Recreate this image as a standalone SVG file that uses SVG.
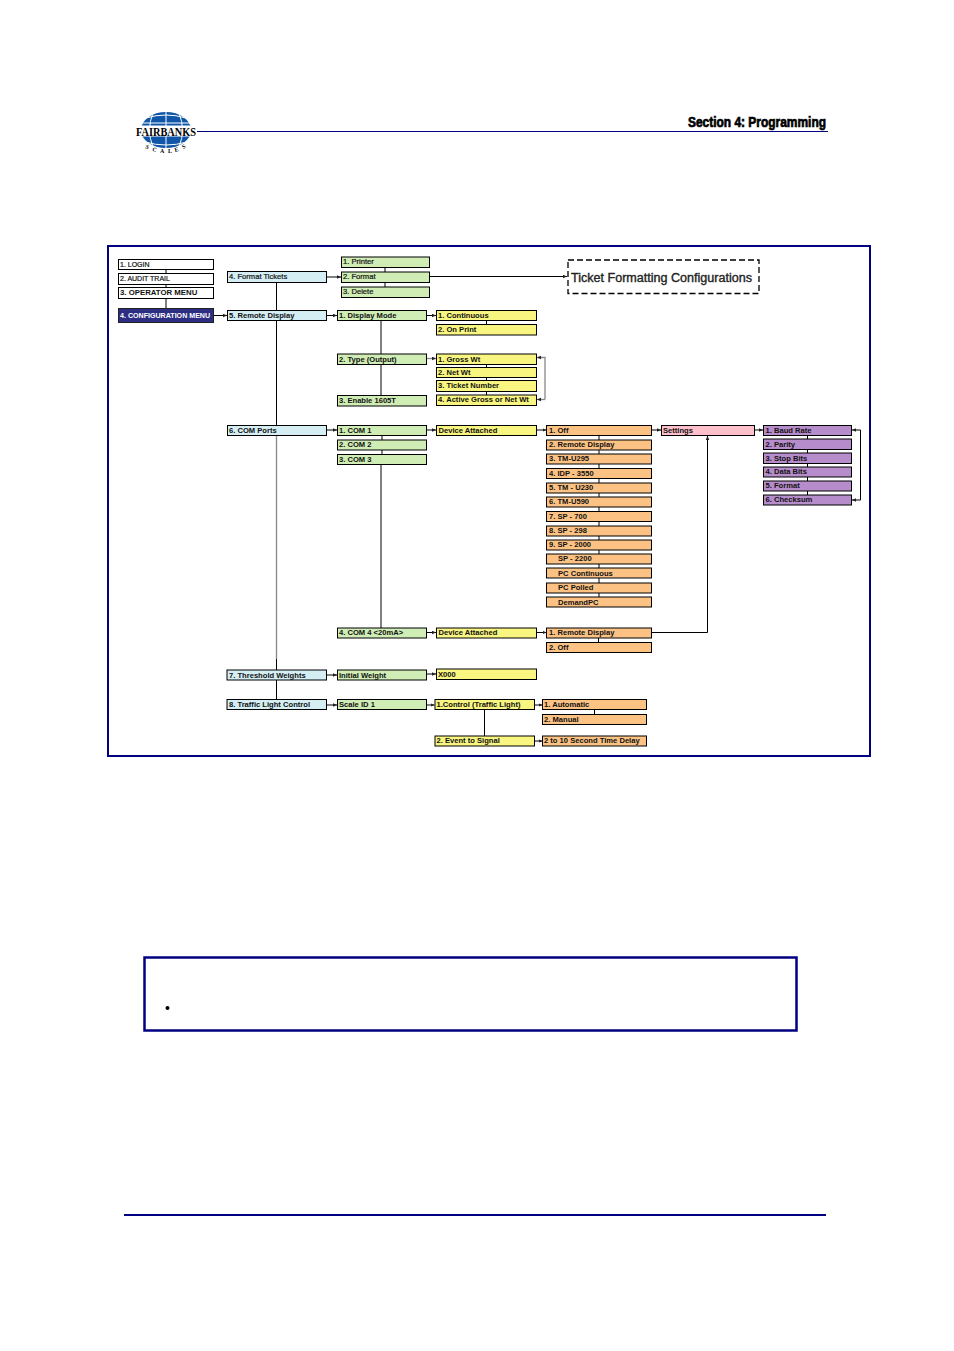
<svg xmlns="http://www.w3.org/2000/svg" width="954" height="1351" viewBox="0 0 954 1351">
<style>
text{font-family:"Liberation Sans",Arial,sans-serif;fill:#111}
.n rect{stroke:#000;stroke-width:1}
.n text{font-size:7.6px;font-weight:bold;transform:translateY(-.6px)}
.n text.r{font-weight:normal;stroke:#111;stroke-width:.2}
.w rect{fill:#fff}.b rect{fill:#d4eef4}.g rect{fill:#cfedb5}.y rect{fill:#f8f580}.o rect{fill:#fbc283}.p rect{fill:#b78ccb}.k rect{fill:#ffc0cb}
.c path{fill:none;stroke:#000;stroke-width:1}
.c path.a{marker-end:url(#ah)}
.c path.h{stroke:#888;stroke-width:1.300}
.c path.ha{stroke:#888;stroke-width:1.300;marker-end:url(#ah)}
.nav{fill:none;stroke:#000080}
.lg{font-family:"Liberation Serif",serif;fill:#000;font-size:6px;font-weight:bold}
</style>
<defs><marker id="ah" markerUnits="userSpaceOnUse" markerWidth="5" markerHeight="5" refX="4" refY="2" orient="auto"><path d="M0 0.2L4 2L0 3.8z" fill="#222"/></marker></defs>
<rect width="954" height="1351" fill="#fff"/>

<g id="logo">
<ellipse cx="166" cy="130" rx="25" ry="18" fill="#0f56a8"/>
<path d="M166 112V148M153 113Q146 130 153 147M179 113Q186 130 179 147M141 123H191M146 118Q166 112 186 118M145 142Q166 148 187 142" fill="none" stroke="#fff" stroke-width="1"/>
<rect x="136" y="125.500" width="60" height="11" fill="#fff"/>
<text x="136" y="135.500" font-size="12" font-weight="bold" textLength="60" lengthAdjust="spacingAndGlyphs" style="font-family:'Liberation Serif',serif;fill:#000">FAIRBANKS</text>
<text class="lg" x="145" y="148" transform="rotate(25 145 148)">S</text>
<text class="lg" x="152" y="151" transform="rotate(15 152 151)">C</text>
<text class="lg" x="160" y="153">A</text>
<text class="lg" x="168" y="153">L</text>
<text class="lg" x="175" y="152" transform="rotate(-15 175 152)">E</text>
<text class="lg" x="183" y="149" transform="rotate(-25 183 149)">S</text>
</g>
<path class="nav" d="M197 131.500H828"/>
<text id="section-title" x="688" y="127" font-size="14.500" font-weight="bold" textLength="138" lengthAdjust="spacingAndGlyphs" stroke="#000" stroke-width=".7" style="fill:#000">Section 4: Programming</text>

<rect id="frame" class="nav" x="108" y="246" width="762" height="510" stroke-width="2"/>

<g id="connectors" class="c">
<path d="M166 270V273M166 284V287M166 298V308"/>
<path class="a" d="M214 315.500H227"/>
<path class="a" d="M327 277H341"/>
<path d="M385 268V272M385 283V287"/>
<path class="a" d="M430 276.500H567"/>
<path class="a" d="M327 315.500H337"/>
<path class="a" d="M427 315.500H436"/>
<path d="M486.500 320V325"/>
<path d="M381 320V354M381 365V395"/>
<path class="ha" d="M427 358.500H436"/>
<path d="M486.500 365V395"/>
<path class="ha" d="M545 399.500V357.500H537"/>
<path class="ha" d="M545 399.500H537"/>
<path d="M276.500 283V310M276.500 320V425"/>
<path class="h" d="M276.500 436V659"/>
<path d="M276.500 659V670M276.500 680V700"/>
<path class="a" d="M327 430H337"/>
<path class="a" d="M427 430H436"/>
<path class="a" d="M537 430H546.500"/>
<path class="a" d="M652 430H661"/>
<path class="a" d="M755 430H763"/>
<path d="M382 436V440M382 450V454M381 465V628"/>
<path d="M599 436V597"/>
<path d="M807.500 436V495"/>
<path class="a" d="M860.500 500V430H852"/>
<path class="a" d="M860.500 500H852"/>
<path class="a" d="M652 632.500H707.500V436"/>
<path class="a" d="M427 632.500H436"/>
<path class="a" d="M537 632.500H546.500"/>
<path d="M598.500 638V643"/>
<path class="a" d="M327 675H337"/>
<path class="a" d="M427 674H436"/>
<path class="a" d="M327 705H337"/>
<path class="a" d="M427 705H434.500"/>
<path class="a" d="M534.500 705H542.500"/>
<path d="M594.500 710V715"/>
<path d="M484.500 710V736"/>
<path class="a" d="M534.500 741H542.500"/>
</g>

<g id="n-login" class="n w"><rect x="118.500" y="259.500" width="95" height="10"/><text class="r" x="120" y="267.500" style="font-size:7px">1. LOGIN</text></g>
<g id="n-audit" class="n w"><rect x="118.500" y="273.500" width="95" height="11"/><text class="r" x="120" y="281.500" style="font-size:7px">2. AUDIT TRAIL</text></g>
<g id="n-operator" class="n w"><rect x="118.500" y="287.500" width="95" height="11"/><text x="120" y="296" style="font-size:7.800px">3. OPERATOR MENU</text></g>
<g id="n-config"><rect x="118.500" y="308.500" width="95" height="14" fill="#2d2e83" stroke="#222"/><text x="120" y="318" font-size="7.100" font-weight="bold" style="fill:#fff">4. CONFIGURATION MENU</text></g>

<g id="n-format-tickets" class="n b"><rect x="227.500" y="271.500" width="99" height="11"/><text class="r" x="229" y="280">4. Format Tickets</text></g>
<g id="n-remote" class="n b"><rect x="227.500" y="310.500" width="99" height="10"/><text x="229" y="318.500">5. Remote Display</text></g>
<g id="n-com-ports" class="n b"><rect x="227.500" y="425.500" width="99" height="10"/><text x="229" y="433.500">6. COM Ports</text></g>
<g id="n-threshold" class="n b"><rect x="227" y="670" width="99.500" height="10"/><text x="229" y="678.500">7. Threshold Weights</text></g>
<g id="n-traffic" class="n b"><rect x="227" y="699.500" width="99.500" height="10"/><text x="229" y="708">8. Traffic Light Control</text></g>

<g id="n-printer" class="n g"><rect x="341.500" y="257" width="88" height="10.500"/><text class="r" x="343" y="265">1. Printer</text></g>
<g id="n-format" class="n g"><rect x="341.500" y="272" width="88" height="10.500"/><text class="r" x="343" y="280">2. Format</text></g>
<g id="n-delete" class="n g"><rect x="341.500" y="287" width="88" height="10.500"/><text class="r" x="343" y="295">3. Delete</text></g>
<g id="n-display-mode" class="n g"><rect x="337.500" y="310.500" width="89" height="10"/><text x="339" y="318.500">1. Display Mode</text></g>
<g id="n-type" class="n g"><rect x="337.500" y="354" width="89" height="10.500"/><text x="339" y="362.500">2. Type (Output)</text></g>
<g id="n-enable" class="n g"><rect x="337.500" y="395.500" width="89" height="10.500"/><text x="339" y="404">3. Enable 1605T</text></g>
<g id="n-com1" class="n g"><rect x="337.500" y="425.500" width="89" height="10"/><text x="339" y="433.500">1. COM 1</text></g>
<g id="n-com2" class="n g"><rect x="337.500" y="440" width="89" height="10"/><text x="339" y="448">2. COM 2</text></g>
<g id="n-com3" class="n g"><rect x="337.500" y="454.500" width="89" height="10"/><text x="339" y="462.500">3. COM 3</text></g>
<g id="n-com4" class="n g"><rect x="337.500" y="628" width="89" height="10"/><text x="339" y="636">4. COM 4 &lt;20mA&gt;</text></g>
<g id="n-initial" class="n g"><rect x="337.500" y="670" width="89" height="10"/><text x="339" y="678.500">Initial Weight</text></g>
<g id="n-scale" class="n g"><rect x="337.500" y="699.500" width="89" height="10"/><text x="339" y="708">Scale ID 1</text></g>

<g id="n-continuous" class="n y"><rect x="436.500" y="310.500" width="100" height="10"/><text x="438" y="318.500">1. Continuous</text></g>
<g id="n-on-print" class="n y"><rect x="436.500" y="324.500" width="100" height="10.500"/><text x="438" y="333">2. On Print</text></g>
<g id="n-gross" class="n y"><rect x="436.500" y="354" width="100" height="10.500"/><text x="438" y="362.500">1. Gross Wt</text></g>
<g id="n-net" class="n y"><rect x="436.500" y="367.500" width="100" height="10"/><text x="438" y="375.500">2. Net Wt</text></g>
<g id="n-ticket" class="n y"><rect x="436.500" y="380.500" width="100" height="11"/><text x="438" y="389">3. Ticket Number</text></g>
<g id="n-active" class="n y"><rect x="436.500" y="395" width="100" height="10.500"/><text x="438" y="403">4. Active Gross or Net Wt</text></g>
<g id="n-device1" class="n y"><rect x="436.500" y="425.500" width="100" height="10"/><text x="438.500" y="433.500">Device Attached</text></g>
<g id="n-device2" class="n y"><rect x="436.500" y="628" width="100" height="10"/><text x="438.500" y="636">Device Attached</text></g>
<g id="n-x000" class="n y"><rect x="436.500" y="669" width="100" height="10.500"/><text x="438" y="677.500">X000</text></g>
<g id="n-control" class="n y"><rect x="435" y="699.500" width="99.500" height="10"/><text x="436.500" y="708">1.Control (Traffic Light)</text></g>
<g id="n-event" class="n y"><rect x="435" y="736" width="99.500" height="10"/><text x="436.500" y="744">2. Event to Signal</text></g>

<g id="n-off" class="n o"><rect x="546.500" y="425.500" width="105" height="10"/><text x="549" y="433.500">1. Off</text></g>
<g id="n-rd" class="n o"><rect x="546.500" y="440" width="105" height="10"/><text x="549" y="448">2. Remote Display</text></g>
<g id="n-u295" class="n o"><rect x="546.500" y="454" width="105" height="10"/><text x="549" y="462">3. TM-U295</text></g>
<g id="n-idp" class="n o"><rect x="546.500" y="468.500" width="105" height="10"/><text x="549" y="476.500">4. IDP - 3550</text></g>
<g id="n-u230" class="n o"><rect x="546.500" y="483" width="105" height="10"/><text x="549" y="491">5. TM - U230</text></g>
<g id="n-u590" class="n o"><rect x="546.500" y="497" width="105" height="10"/><text x="549" y="505">6. TM-U590</text></g>
<g id="n-sp700" class="n o"><rect x="546.500" y="511.500" width="105" height="10"/><text x="549" y="519.500">7. SP - 700</text></g>
<g id="n-sp298" class="n o"><rect x="546.500" y="526" width="105" height="10"/><text x="549" y="534">8. SP - 298</text></g>
<g id="n-sp2000" class="n o"><rect x="546.500" y="540" width="105" height="10"/><text x="549" y="548">9. SP - 2000</text></g>
<g id="n-sp2200" class="n o"><rect x="546.500" y="554" width="105" height="10"/><text x="558" y="562">SP - 2200</text></g>
<g id="n-pcc" class="n o"><rect x="546.500" y="568" width="105" height="10"/><text x="558" y="576.500">PC Continuous</text></g>
<g id="n-pcp" class="n o"><rect x="546.500" y="583" width="105" height="10"/><text x="558" y="591">PC Polled</text></g>
<g id="n-dpc" class="n o"><rect x="546.500" y="597" width="105" height="10"/><text x="558" y="605.500">DemandPC</text></g>
<g id="n-rd2" class="n o"><rect x="546.500" y="628" width="105" height="10"/><text x="549" y="636">1. Remote Display</text></g>
<g id="n-off2" class="n o"><rect x="546.500" y="642.500" width="105" height="10"/><text x="549" y="650.500">2. Off</text></g>
<g id="n-auto" class="n o"><rect x="542.500" y="699.500" width="104" height="10"/><text x="544" y="708">1. Automatic</text></g>
<g id="n-manual" class="n o"><rect x="542.500" y="714.500" width="104" height="10"/><text x="544" y="722.500">2. Manual</text></g>
<g id="n-delay" class="n o"><rect x="542.500" y="736" width="104" height="10"/><text x="544" y="744">2 to 10 Second Time Delay</text></g>

<g id="n-settings" class="n k"><rect x="661.500" y="425.500" width="93" height="10"/><text x="663" y="433.500">Settings</text></g>

<g id="n-baud" class="n p"><rect x="763.500" y="425.500" width="88" height="10"/><text x="765.500" y="433.500">1. Baud Rate</text></g>
<g id="n-parity" class="n p"><rect x="763.500" y="439" width="88" height="10.500"/><text x="765.500" y="447.500">2. Parity</text></g>
<g id="n-stop" class="n p"><rect x="763.500" y="453" width="88" height="10.500"/><text x="765.500" y="461.500">3. Stop Bits</text></g>
<g id="n-data" class="n p"><rect x="763.500" y="467" width="88" height="10"/><text x="765.500" y="475">4. Data Bits</text></g>
<g id="n-fmt" class="n p"><rect x="763.500" y="481" width="88" height="10"/><text x="765.500" y="489">5. Format</text></g>
<g id="n-checksum" class="n p"><rect x="763.500" y="495" width="88" height="10"/><text x="765.500" y="503">6. Checksum</text></g>

<g id="n-ticket-config"><rect x="568" y="260" width="191" height="33.500" fill="#fff" stroke="#000" stroke-width="1.300" stroke-dasharray="6 3"/><text x="571" y="282" font-size="12" textLength="181" lengthAdjust="spacingAndGlyphs" stroke="#222" stroke-width=".35" style="fill:#222">Ticket Formatting Configurations</text></g>

<rect id="note" class="nav" x="144.500" y="957.500" width="652" height="73" stroke-width="2.500"/>
<circle cx="167.500" cy="1008" r="2" fill="#000"/>
<path class="nav" stroke-width="2" d="M124 1215H826"/>
</svg>
